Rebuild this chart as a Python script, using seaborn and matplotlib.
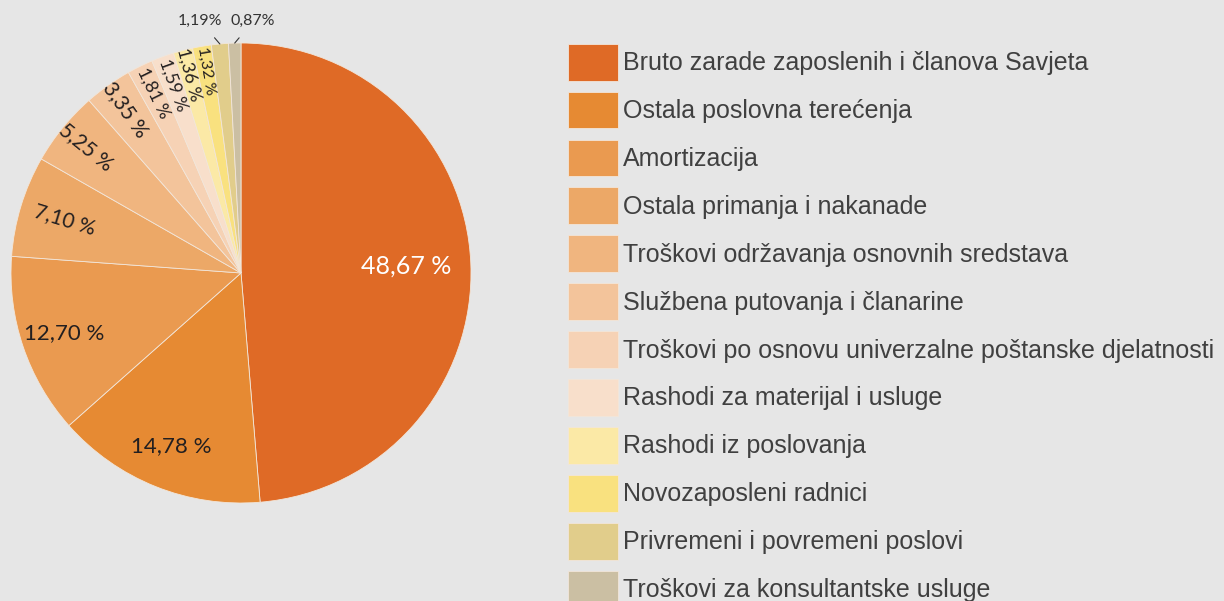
import numpy as np
import matplotlib
matplotlib.use("Agg")
import matplotlib.pyplot as plt
import seaborn as sns

# podaci
kategorije = [
    "Bruto zarade zaposlenih i članova Savjeta",
    "Ostala poslovna terećenja",
    "Amortizacija",
    "Ostala primanja i nakanade",
    "Troškovi održavanja osnovnih sredstava",
    "Službena putovanja i članarine",
    "Troškovi po osnovu univerzalne poštanske djelatnosti",
    "Rashodi za materijal i usluge",
    "Rashodi iz poslovanja",
    "Novozaposleni radnici",
    "Privremeni i povremeni poslovi",
    "Troškovi za konsultantske usluge",
]
procenti = [48.67, 14.78, 12.70, 7.10, 5.25, 3.35, 1.81, 1.59, 1.36, 1.32, 1.19, 0.87]
oznake = ["48,67 %", "14,78 %", "12,70 %", "7,10 %", "5,25 %", "3,35 %",
          "1,81 %", "1,59 %", "1,36 %", "1,32 %", "1,19%", "0,87%"]
boje = ["#DF6A26", "#E68A33", "#EA9A50", "#ECA867", "#F0B57F", "#F3C49B",
        "#F6D2B5", "#F8DFCB", "#FBE9A6", "#F9E17F", "#E1CD8B", "#CBBFA3"]

BG = "#E6E6E6"
sns.set_theme(style="white", rc={"figure.facecolor": BG, "axes.facecolor": BG})
plt.rcParams["font.family"] = ["Liberation Sans", "DejaVu Sans"]

fig = plt.figure(figsize=(12.24, 6.01), dpi=100)
ax = fig.add_axes([11 / 1224, 98 / 601, 460 / 1224, 460 / 601])

wedges, _ = ax.pie(procenti, colors=boje, startangle=90, counterclock=False,
                   radius=1, wedgeprops=dict(edgecolor="#F2E6DA", linewidth=0.6))
ax.set_xlim(-1, 1)
ax.set_ylim(-1, 1)
ax.axis("off")

lab_font = ["Lato", "DejaVu Sans"]
for i, (w, txt) in enumerate(zip(wedges, oznake)):
    ang = np.deg2rad((w.theta1 + w.theta2) / 2)
    if i >= 10:
        continue
    if i == 0:
        r, rot, col, fs = 0.72, 0, "white", 18
    elif i < 3:
        r, rot, col, fs = 0.81, 0, "#231F20", 16
    else:
        r = 0.80 if i == 3 else (0.87 if i < 8 else 0.89)
        rot = np.rad2deg(ang) - 180
        col = "#231F20"
        fs = 15 if i < 6 else 13
        if i == 9:
            fs = 11.5
    ax.text(r * np.cos(ang), r * np.sin(ang), txt, ha="center", va="center",
            rotation=rot, rotation_mode="anchor", color=col, fontsize=fs,
            family=lab_font)

# male vrijednosti izvan kruga
for w, txt, dx in [(wedges[10], oznake[10], -0.085), (wedges[11], oznake[11], 0.08)]:
    ang = np.deg2rad((w.theta1 + w.theta2) / 2)
    x0, y0 = np.cos(ang), np.sin(ang)
    ax.annotate(txt, xy=(x0, y0), xytext=(x0 + dx, 1.095), ha="center", va="center",
                fontsize=11.5, color="#333333", family=lab_font,
                arrowprops=dict(arrowstyle="-", color="#333333", lw=0.8,
                                shrinkA=6, shrinkB=0),
                annotation_clip=False)

fig.legend(wedges, kategorije, loc="upper left",
           bbox_to_anchor=(567.6 / 1224, 1 - 43.8 / 601),
           frameon=False, fontsize=18, handlelength=2.0, handleheight=1.886,
           labelspacing=0.445, handletextpad=0.2, borderpad=0, borderaxespad=0,
           labelcolor="#404040")

fig.savefig("out.png", dpi=100, facecolor=BG)
